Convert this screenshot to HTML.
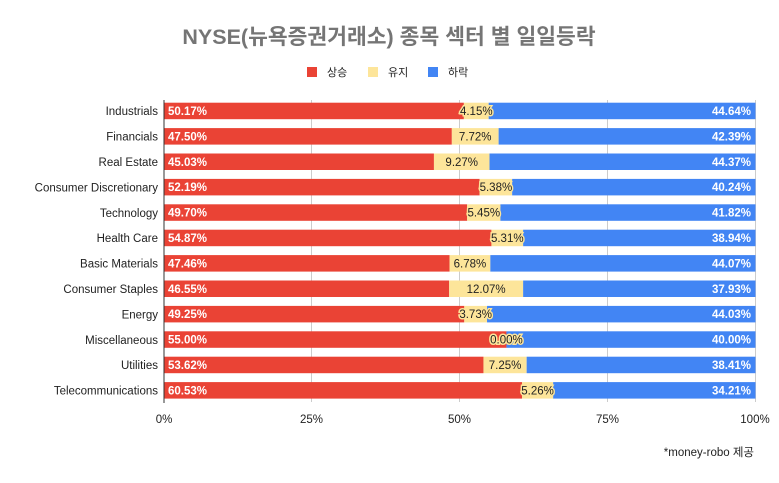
<!DOCTYPE html>
<html><head><meta charset="utf-8"><style>
body{margin:0;background:#fff}
svg{display:block}
text{font-family:"Liberation Sans","Noto Sans CJK KR",sans-serif}
.c{font-size:11.5px;fill:#222;text-anchor:end}
.w{font-size:11.5px;fill:#fff;font-weight:bold}
.y{font-size:11.5px;fill:#222;text-anchor:middle;stroke:#fde59a;stroke-width:3;paint-order:stroke}
</style></head><body>
<svg width="779" height="483" xmlns="http://www.w3.org/2000/svg">
<rect width="779" height="483" fill="#fff"/>
<text x="389" y="44" text-anchor="middle" font-size="21.5" font-weight="bold" fill="#757575">NYSE(뉴욕증권거래소) 종목 섹터 별 일일등락</text>
<rect x="307" y="67" width="10" height="10" fill="#ea4335"/><text x="327" y="76" font-size="11" fill="#222">상승</text>
<rect x="368" y="67" width="10" height="10" fill="#fde59a"/><text x="388" y="76" font-size="11" fill="#222">유지</text>
<rect x="428" y="67" width="10" height="10" fill="#4285f4"/><text x="448" y="76" font-size="11" fill="#222">하락</text>
<g stroke="#ccc" stroke-width="1">
<line x1="311.5" y1="100" x2="311.5" y2="402"/><line x1="459.5" y1="100" x2="459.5" y2="402"/><line x1="607.5" y1="100" x2="607.5" y2="402"/><line x1="755.5" y1="100" x2="755.5" y2="402"/>
</g>
<g id="bars"></g>
<line x1="164" y1="100" x2="164" y2="403" stroke="#333" stroke-width="1"/>
<g font-size="11.5" fill="#222" text-anchor="middle">
<text x="164" y="423">0%</text><text x="311.5" y="423">25%</text><text x="459.5" y="423">50%</text><text x="607.5" y="423">75%</text><text x="755" y="423">100%</text>
</g>
<text x="754" y="456" text-anchor="end" font-size="11.5" fill="#222">*money-robo 제공</text>
</svg>
<script>
var d=[["Industrials",50.17,4.15,44.64],["Financials",47.50,7.72,42.39],["Real Estate",45.03,9.27,44.37],["Consumer Discretionary",52.19,5.38,40.24],["Technology",49.70,5.45,41.82],["Health Care",54.87,5.31,38.94],["Basic Materials",47.46,6.78,44.07],["Consumer Staples",46.55,12.07,37.93],["Energy",49.25,3.73,44.03],["Miscellaneous",55.00,0.00,40.00],["Utilities",53.62,7.25,38.41],["Telecommunications",60.53,5.26,34.21]];
var g=document.getElementById("bars"),s="",x0=164,W=591.5;
d.forEach(function(r,i){var t=102.7+25.4*i,h=16.5,S=r[1]+r[2]+r[3],a=x0+r[1]/S*W,b=a+r[2]/S*W,ty=t+12.3;
s+='<rect x="'+x0+'" y="'+t+'" width="'+(a-x0)+'" height="'+h+'" fill="#ea4335"/>';
s+='<rect x="'+a+'" y="'+t+'" width="'+(b-a)+'" height="'+h+'" fill="#fde59a"/>';
s+='<rect x="'+b+'" y="'+t+'" width="'+(755.5-b)+'" height="'+h+'" fill="#4285f4"/>';
s+='<text class="c" x="158" y="'+(t+12.5)+'">'+r[0]+'</text>';
s+='<text class="w" x="168" y="'+ty+'">'+r[1].toFixed(2)+'%</text>';
s+='<text class="w" x="751" y="'+ty+'" text-anchor="end">'+r[3].toFixed(2)+'%</text>';
s+='<text class="y" x="'+((a+b)/2)+'" y="'+ty+'">'+r[2].toFixed(2)+'%</text>';});
g.innerHTML=s;
</script>
</body></html>
